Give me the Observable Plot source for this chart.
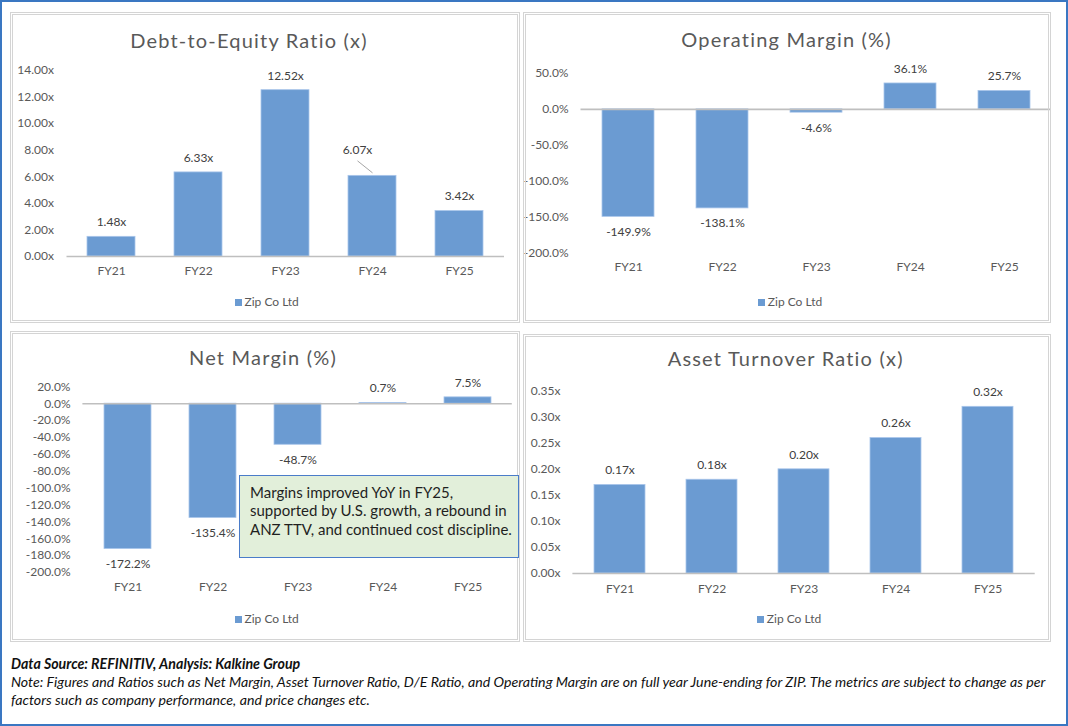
<!DOCTYPE html>
<html><head><meta charset="utf-8">
<script src="https://cdn.jsdelivr.net/npm/d3@7"></script>
<script src="https://cdn.jsdelivr.net/npm/@observablehq/plot@0.6"></script>
<style>
body{margin:0;background:#fff;font-family:Lato,"Open Sans",sans-serif;}
#root{position:relative;width:1068px;height:726px;overflow:hidden;background:#fff}
.outer{position:absolute;left:0;top:0;width:1068px;height:726px;box-sizing:border-box;border:2px solid #3A77C2;pointer-events:none}
.frame{position:absolute;box-sizing:border-box;border:3px double #d4d4d4;pointer-events:none}
.title{position:absolute;width:400px;text-align:center;font-size:20px;letter-spacing:1.2px;line-height:24px;color:#595959;white-space:nowrap}
.legend{position:absolute;width:200px;text-align:center;font-size:12px;line-height:14px;color:#595959;white-space:nowrap}
.legend i{display:inline-block;width:7px;height:7px;background:#6B9BD2;margin-right:3px;vertical-align:0px}
.note{position:absolute;box-sizing:border-box;background:#E2EFDA;border:1px solid #4A7CC9;color:#1f1f1f;font-size:15px;line-height:18.7px;padding:7px 0 0 10px;white-space:nowrap}
.foot{position:absolute;left:11px;font-size:14.2px;line-height:18px;font-style:italic;color:#111;white-space:nowrap}
</style></head><body><div id="root"></div><script>
// ---- data ----
const years = ["FY21", "FY22", "FY23", "FY24", "FY25"];
const debtToEquity = [1.48, 6.33, 12.52, 6.07, 3.42];
const operatingMargin = [-149.9, -138.1, -4.6, 36.1, 25.7];
const netMargin = [-172.2, -135.4, -48.7, 0.7, 7.5];
const assetTurnover = [0.17, 0.18, 0.20, 0.26, 0.32];
const deTicks = [0, 2, 4, 6, 8, 10, 12, 14];
const omTicks = [-200, -150, -100, -50, 0, 50];
const nmTicks = [-200, -180, -160, -140, -120, -100, -80, -60, -40, -20, 0, 20];
const atTicks = [0, 0.05, 0.10, 0.15, 0.20, 0.25, 0.30, 0.35];
const titles = ["Debt-to-Equity Ratio (x)", "Operating Margin (%)", "Net Margin (%)", "Asset Turnover Ratio (x)"];
const seriesName = "Zip Co Ltd";
const noteLines = ["Margins improved YoY in FY25,", "supported by U.S. growth, a rebound in", "ANZ TTV, and continued cost discipline."];
const sourceText = "Data Source: REFINITIV, Analysis: Kalkine Group";
const footLines = ["Note: Figures and Ratios such as Net Margin, Asset Turnover Ratio, D/E Ratio, and Operating Margin are on full year June-ending for ZIP. The metrics are subject to change as per", "factors such as company performance, and price changes etc."];

const fmtX = v => v.toFixed(2) + "x";
const fmtP = v => v.toFixed(1) + "%";

const root = document.getElementById("root");
const BAR = "#6B9BD2";

function el(cls, css, html) {
  const d = document.createElement("div");
  d.className = cls;
  Object.assign(d.style, css);
  if (html != null) d.innerHTML = html;
  root.appendChild(d);
  return d;
}

function drawPanel(cfg) {
  const data = years.map((year, i) => ({year, value: cfg.values[i]}));
  const isSpecial = d => cfg.special && d.year === cfg.special.year;
  const marks = [
    Plot.barY(data, {x: "year", y: "value", fill: BAR, stroke: "#A9C5EA", strokeWidth: 0.8}),
    Plot.ruleY([0], {stroke: "#BFBFBF", strokeWidth: 1.6}),
    Plot.axisY(cfg.ticks, {tickFormat: cfg.fmt, tickSize: 0, tickPadding: cfg.tpY, fontSize: 12, label: null}),
    Plot.axisX({tickSize: 0, tickPadding: cfg.tpX, fontSize: 12, label: null}),
    Plot.text(data.filter(d => d.value >= 0 && !isSpecial(d)), {x: "year", y: "value", text: d => cfg.fmt(d.value), dy: -14.5, lineAnchor: "middle", fill: "#404040", fontSize: 12}),
    Plot.text(data.filter(d => d.value < 0 && !isSpecial(d)), {x: "year", y: "value", text: d => cfg.fmt(d.value), dy: 15, lineAnchor: "middle", fill: "#404040", fontSize: 12})
  ];
  if (cfg.special) {
    const sp = data.filter(isSpecial);
    marks.push(Plot.text(sp, {x: "year", y: "value", text: d => cfg.fmt(d.value), dx: -15, dy: -25.7, lineAnchor: "middle", fill: "#404040", fontSize: 12}));
    marks.push((index, scales) => {
      const x = scales.x, y = scales.y;
      const g = d3.create("svg:g");
      for (const d of sp) {
        const cx = x(d.year) + (x.bandwidth ? x.bandwidth() / 2 : 0);
        const cy = y(d.value);
        g.append("line").attr("x1", cx - 14.5).attr("y1", cy - 14.5).attr("x2", cx + 0.5).attr("y2", cy - 2.5)
          .attr("stroke", "#A6A6A6").attr("stroke-width", 1);
      }
      return g.node();
    });
  }
  const svg = Plot.plot({
    width: cfg.w, height: cfg.h,
    marginTop: cfg.mt, marginBottom: cfg.mb, marginLeft: cfg.ml, marginRight: cfg.mr,
    x: {type: "band", domain: years, paddingInner: 0.45, paddingOuter: 0.225, label: null},
    y: {domain: cfg.domain, label: null},
    style: {fontFamily: "Lato, 'Open Sans', sans-serif", fontSize: "12px", color: "#595959", background: "transparent", overflow: "visible"},
    marks
  });
  Object.assign(svg.style, {position: "absolute", left: cfg.x + "px", top: cfg.y + "px"});
  root.appendChild(svg);
  el("frame", {left: cfg.x + "px", top: cfg.y + "px", width: cfg.w + "px", height: cfg.h + "px"});
  el("title", {left: (cfg.tx - 200) + "px", top: (cfg.ty - 12) + "px"}, cfg.title);
  el("legend", {left: (cfg.lx - 100) + "px", top: (cfg.ly - 7) + "px"}, "<i></i>" + seriesName);
}

drawPanel({x: 10, y: 12, w: 510, h: 311, mt: 58, mb: 67, ml: 56.5, mr: 16, domain: [0, 14], ticks: deTicks, fmt: fmtX,
  values: debtToEquity, tpY: 13, tpX: 10, title: titles[0], tx: 249, ty: 40, lx: 266.7, ly: 302.3, special: {year: "FY24"}});
drawPanel({x: 523, y: 12, w: 528, h: 311, mt: 61, mb: 70.7, ml: 57.5, mr: 0, domain: [-200, 50], ticks: omTicks, fmt: fmtP,
  values: operatingMargin, tpY: 12.5, tpX: 10, title: titles[1], tx: 786.6, ty: 39, lx: 790, ly: 302.3});
drawPanel({x: 10, y: 331, w: 510, h: 311, mt: 55.3, mb: 70, ml: 72.4, mr: 8.2, domain: [-200, 20], ticks: nmTicks, fmt: fmtP,
  values: netMargin, tpY: 12.4, tpX: 10, title: titles[2], tx: 263, ty: 357.3, lx: 266.7, ly: 618.7});
drawPanel({x: 523, y: 334, w: 528, h: 308, mt: 56.7, mb: 69, ml: 49.4, mr: 16.3, domain: [0, 0.35], ticks: atTicks, fmt: fmtX,
  values: assetTurnover, tpY: 12.4, tpX: 10.5, title: titles[3], tx: 785.7, ty: 358.3, lx: 789, ly: 618.7});

el("note", {left: "239px", top: "474.7px", width: "280px", height: "83px"}, noteLines.join("<br>"));
el("foot", {top: "655px", fontWeight: "700"}, sourceText);
el("foot", {top: "673px"}, footLines[0]);
el("foot", {top: "691px"}, footLines[1]);
el("outer", {});
</script></body></html>
